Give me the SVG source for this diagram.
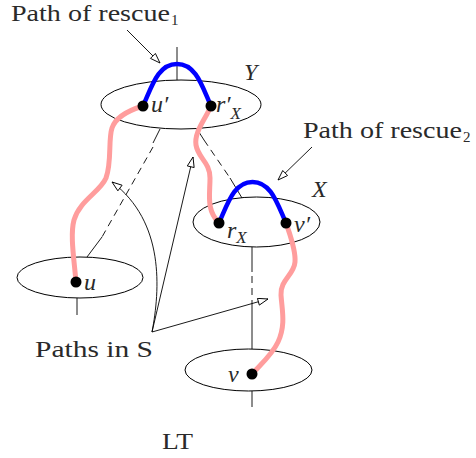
<svg xmlns="http://www.w3.org/2000/svg" width="476" height="458" viewBox="0 0 476 458">
<defs>
<marker id="oa" markerUnits="userSpaceOnUse" markerWidth="12" markerHeight="9" refX="11" refY="4" orient="auto">
<path d="M1,0.5 L11,4 L1,7.5 z" fill="#fff" stroke="#000" stroke-width="0.9"/>
</marker>
<style>
.lbl{font-family:"Liberation Serif","Times New Roman",serif;font-size:24px;fill:#2a2a2a}
.m{font-family:"Liberation Serif","Times New Roman",serif;font-size:24px;font-style:italic;fill:#2a2a2a}
.sub{font-family:"Liberation Serif","Times New Roman",serif;font-size:15px;fill:#2a2a2a}
.ell{fill:none;stroke:#000;stroke-width:1}
.ln{fill:none;stroke:#000;stroke-width:0.9}
.dash{fill:none;stroke:#000;stroke-width:0.9;stroke-dasharray:7 5}
.arr{fill:none;stroke:#000;stroke-width:0.9;marker-end:url(#oa)}
.pink{fill:none;stroke:#ff9d9d;stroke-width:5;stroke-linecap:round}
.blue{fill:none;stroke:#0000ff;stroke-width:4.5;stroke-linecap:round}
.dot{fill:#000}
</style>
</defs>
<rect width="476" height="458" fill="#fff"/>

<g id="nodeY">
<ellipse class="ell" cx="181" cy="104.5" rx="80" ry="24.5"/>
<text class="m" x="244" y="80">Y</text>
</g>
<g id="nodeX">
<ellipse class="ell" cx="256.5" cy="222" rx="63.5" ry="25"/>
<text class="m" x="312" y="197">X</text>
</g>
<g id="nodeU">
<ellipse class="ell" cx="80" cy="277.5" rx="63" ry="20.5"/>
</g>
<g id="nodeV">
<ellipse class="ell" cx="248.5" cy="370" rx="63.5" ry="21"/>
</g>

<g id="connectors">
<line class="ln" x1="177" y1="47" x2="177" y2="80"/>
<line class="ln" x1="77" y1="298" x2="77" y2="315"/>
<line class="ln" x1="252" y1="391" x2="252" y2="407"/>
<line class="dash" x1="153" y1="147" x2="102" y2="237"/>
<line class="ln" x1="160" y1="129" x2="153" y2="143"/>
<line class="ln" x1="102" y1="237" x2="87" y2="257"/>
<line class="dash" x1="204" y1="140" x2="230" y2="178"/>
<line class="ln" x1="197" y1="129" x2="204" y2="140"/>
<line class="ln" x1="230" y1="178" x2="242" y2="198"/>
<line class="ln" x1="252" y1="247" x2="252" y2="272"/>
<line class="dash" x1="252" y1="276" x2="252" y2="305"/>
<line class="ln" x1="252" y1="305" x2="252" y2="349"/>
<line class="arr" x1="127" y1="30" x2="160" y2="63"/>
<line class="arr" x1="312" y1="147" x2="278" y2="180"/>
<line class="arr" x1="152" y1="332" x2="193" y2="157"/>
<line class="arr" x1="152" y1="332" x2="268" y2="299"/>
<path class="arr" d="M152,332 C160,290 165,222 112,182"/>
<path class="pink" d="M76,282 C74,258 70,235 74,220 C80,200 100,192 106,178 C112,162 108,140 112,128 C116,116 130,110 143,106"/>
<path class="pink" d="M211,106 C205,120 194,132 196,145 C198,158 210,162 210,178 C210,195 206,210 219,223"/>
<path class="pink" d="M286,223 C290,235 296,250 295,262 C294,275 280,280 281,295 C282,310 286,325 278,342 C272,355 260,365 252,374"/>
<path class="blue" d="M143,106 C152,86 158,64 177,64 C196,64 202,86 211,106"/>
<path class="blue" d="M219,223 C228,203 234,182 252.5,182 C271,182 277,203 286,223"/>
</g>

<g id="dots">
<circle class="dot" cx="143" cy="106" r="5.5"/>
<circle class="dot" cx="211" cy="106" r="5.5"/>
<circle class="dot" cx="219" cy="223" r="5.5"/>
<circle class="dot" cx="286" cy="223" r="5.5"/>
<circle class="dot" cx="76" cy="282" r="5.5"/>
<circle class="dot" cx="252" cy="374" r="5.5"/>
</g>

<g id="labels">
<text class="m" x="151" y="112">u′</text>
<text class="m" x="216" y="112">r′<tspan dy="7" font-size="17">X</tspan></text>
<text class="m" x="227" y="238">r<tspan dy="5" font-size="17">X</tspan></text>
<text class="m" x="294" y="232">v′</text>
<text class="m" x="84" y="290">u</text>
<text class="m" x="228" y="382">v</text>
<text class="lbl" x="11" y="21" textLength="159" lengthAdjust="spacingAndGlyphs">Path of rescue</text>
<text class="sub" x="171" y="25">1</text>
<text class="lbl" x="303" y="138" textLength="159" lengthAdjust="spacingAndGlyphs">Path of rescue</text>
<text class="sub" x="463" y="142">2</text>
<text class="lbl" x="35" y="357" textLength="118" lengthAdjust="spacingAndGlyphs">Paths in S</text>
<text class="lbl" x="162" y="449" textLength="31" lengthAdjust="spacingAndGlyphs">LT</text>
</g>
</svg>
